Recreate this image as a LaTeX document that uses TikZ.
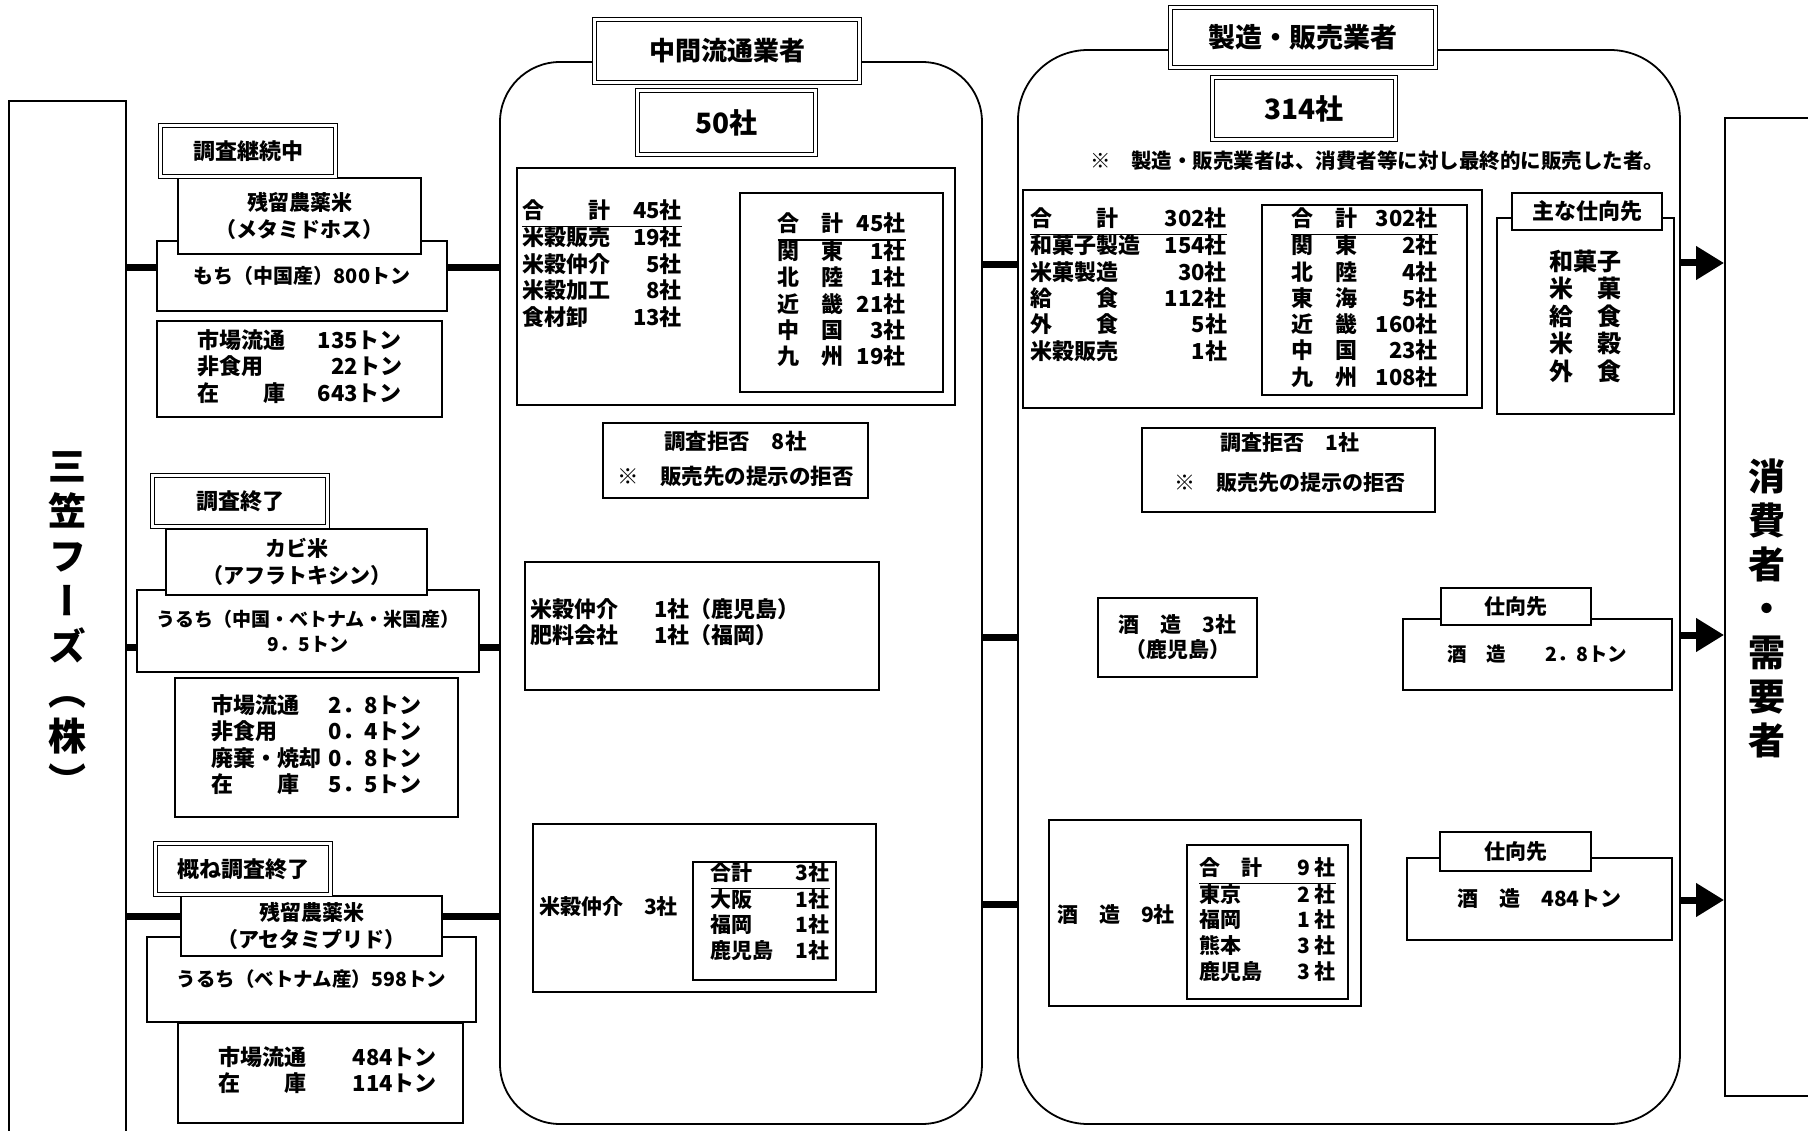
\documentclass[tikz,border=0pt]{standalone}
\usepackage{fontspec}
\setmainfont{Noto Sans CJK JP}
\newfontfamily\jpvert[RawFeature={+vert}]{Noto Sans CJK JP}
\usepackage{array}
\usetikzlibrary{arrows.meta}
\newcommand\fsz[2]{\fontsize{#1pt}{#2pt}\selectfont\bfseries}
\newcolumntype{L}[1]{>{\raggedright\arraybackslash}p{#1}}
\newcolumntype{R}[1]{>{\raggedleft\arraybackslash}p{#1}}
\setlength\arrayrulewidth{1.5pt}
\tikzset{
 bx/.style={draw, line width=1.8pt, fill=white, inner sep=0pt, align=center},
 dbx/.style={draw, line width=1.2pt, double=white, double distance=3pt, fill=white, inner sep=0pt, align=center},
 pos4/.style args={#1/#2/#3/#4}{minimum width={(#3)-(#1)}, minimum height={(#4)-(#2)}, at={({((#1)+(#3))/2},{((#2)+(#4))/2})}},
 conn/.style={line width=7pt},
 arr/.style={line width=7pt, -{Triangle[length=28pt,width=32pt]}},
 txt/.style={inner sep=0pt, align=center},
}
\begin{document}
\begin{tikzpicture}[x=1pt,y=-1pt]
\useasboundingbox (0,0) rectangle (1808,1131);
\clip (0,0) rectangle (1808,1131);
\fill[white] (0,0) rectangle (1808,1131);

% ---------- left: Mikasa Foods ----------
\node[bx, fill=none, pos4=9/101/126/1160] (mk) {};
\node[txt, font=\jpvert\fsz{38}{45}] (mkt) at (67,624) {三\\笠\\フ\\ー\\ズ\\（\\株\\）};

% group 1
\node[bx, font=\fsz{20}{24}, pos4=157/241/447/311] (r1) {もち（中国産）800トン};
\node[bx, font=\fsz{21}{27}, pos4=178/178/421/254] (m1) {残留農薬米\\（メタミドホス）};
\node[dbx, font=\fsz{22}{26}, pos4=160.5/125.5/335.5/176.5] (c1) {調査継続中};
\node[bx, font=\fsz{22}{25}, pos4=157/321/442/417] (s1) {\begin{tabular}{@{}L{120pt}@{}R{85pt}@{}}市場流通&135トン\\非食用&22トン\\在　　庫&643トン\end{tabular}};

% group 2
\node[bx, font=\fsz{19}{25}, pos4=137/590/479/672] (r2) {うるち（中国・ベトナム・米国産）\\9．5トン};
\node[bx, font=\fsz{21}{27}, pos4=166/529/427/595] (m2) {カビ米\\（アフラトキシン）};
\node[dbx, font=\fsz{22}{26}, pos4=152.5/475.5/327.5/526.5] (c2) {調査終了};
\node[bx, font=\fsz{22}{25.5}, pos4=175/678/458/817] (s2) {\begin{tabular}{@{}L{115pt}@{}R{95pt}@{}}市場流通&2．8トン\\非食用&0．4トン\\廃棄・焼却&0．8トン\\在　　庫&5．5トン\end{tabular}};

% group 3
\node[bx, font=\fsz{19.5}{24}, pos4=147/937/476/1022] (r3) {\raisebox{-4pt}{うるち（ベトナム産）598トン}};
\node[bx, font=\fsz{21}{27}, pos4=181/896/442/956] (m3) {残留農薬米\\（アセタミプリド）};
\node[dbx, font=\fsz{22}{26}, pos4=155.5/843.5/330.5/894.5] (c3) {概ね調査終了};
\node[bx, font=\fsz{22}{25}, pos4=178/1023/463/1123] (s3) {\hspace*{14pt}\begin{tabular}{@{}L{120pt}@{}R{99pt}@{}}市場流通&484トン\\在　　庫&114トン\end{tabular}};

% ---------- middle: intermediaries ----------
\node[bx, fill=none, rounded corners=60pt, pos4=500/62/982/1124] (mid) {};
\node[dbx, font=\fsz{26}{30}, pos4=594.5/19.5/859.5/82.5] (tmid) {中間流通業者};
\node[dbx, font=\fsz{28}{32}, pos4=637.5/90.5/815.5/154.5] (nmid) {50社};
\node[bx, pos4=517/168/955/405] (bA) {};
\node[txt, font=\fsz{22}{25}] (tA) at (602,266) {\begin{tabular}{@{}L{95pt}@{}R{65pt}@{}}合　　計&45社\\\hline 米穀販売&19社\\米穀仲介&5社\\米穀加工&8社\\食材卸&13社\end{tabular}};
\node[bx, font=\fsz{22}{25}, pos4=740/193/943/392] (bA2) {\begin{tabular}{@{}L{70pt}@{}R{58pt}@{}}合　計&45社\\\hline 関　東&1社\\北　陸&1社\\近　畿&21社\\中　国&3社\\九　州&19社\end{tabular}};
\node[bx, pos4=603/423/868/498] (bR) {};
\node[txt, font=\fsz{21.5}{35}] (tR) at (735.5,459) {調査拒否　8社\\※　販売先の提示の拒否};
\node[bx, pos4=525/562/879/690] (bB) {};
\node[txt, anchor=west, font=\fsz{22}{25}] (tB) at (530,625) {\begin{tabular}{@{}l@{\hspace{36pt}}l@{}}米穀仲介&1社（鹿児島）\\肥料会社&1社（福岡）\end{tabular}};
\node[bx, pos4=533/824/876/992] (bC) {};
\node[txt, anchor=west, font=\fsz{21}{25}] (tC) at (539,906) {米穀仲介　3社};
\node[bx, pos4=693/862/836/980] (bC2) {};
\node[txt, font=\fsz{21}{25}] (tC2) at (770,914) {\begin{tabular}{@{}L{70pt}@{}R{49pt}@{}}合計&3社\\\hline 大阪&1社\\福岡&1社\\鹿児島&1社\end{tabular}};

% ---------- right: manufacturers / sellers ----------
\node[bx, fill=none, rounded corners=70pt, pos4=1018/50/1680/1124] (rc) {};
\node[dbx, font=\fsz{27}{31}, pos4=1170.5/7.5/1435.5/67.5] (trc) {製造・販売業者};
\node[dbx, font=\fsz{28}{32}, pos4=1212.5/77.5/1395.5/139.5] (nrc) {314社};
\node[txt, anchor=west, font=\fsz{20.5}{24}] (note) at (1090,161) {※　製造・販売業者は、消費者等に対し最終的に販売した者。};
\node[bx, pos4=1023/190/1482/408] (bD) {};
\node[txt, font=\fsz{22}{25}] (tD) at (1128.5,287) {\begin{tabular}{@{}L{120pt}@{}R{77pt}@{}}合　　計&302社\\\hline 和菓子製造&154社\\米菓製造&30社\\給　　食&112社\\外　　食&5社\\米穀販売&1社\end{tabular}};
\node[bx, font=\fsz{22}{24.7}, pos4=1262/205/1467/395] (bD2) {\begin{tabular}{@{}L{75pt}@{}R{72pt}@{}}合　計&302社\\\hline 関　東&2社\\北　陸&4社\\東　海&5社\\近　畿&160社\\中　国&23社\\九　州&108社\end{tabular}};
\node[bx, pos4=1142/428/1435/512] (bR2) {};
\node[txt, font=\fsz{21}{40}] (tR2) at (1290,463) {調査拒否　1社\\※　販売先の提示の拒否};
\node[bx, font=\fsz{21}{25}, pos4=1098/598/1257/677] (b3) {酒　造　3社\\（鹿児島）};
\node[bx, pos4=1049/820/1361/1006] (b9) {};
\node[txt, anchor=west, font=\fsz{21}{25}] (t9) at (1057,915) {酒　造　9社};
\node[bx, font=\fsz{21}{25.5}, pos4=1187/845/1348/999] (b9i) {\begin{tabular}{@{}L{80pt}@{}R{57pt}@{}}合　計&9 社\\\hline 東京&2 社\\福岡&1 社\\熊本&3 社\\鹿児島&3 社\end{tabular}};

\node[bx, pos4=1497/218/1674/414] (bS) {};
\node[bx, font=\fsz{22}{26}, pos4=1512/193/1662/230] (bSl) {主な仕向先};
\node[txt, font=\fsz{24}{27.5}] (tS) at (1585,316) {和菓子\\米　菓\\給　食\\米　穀\\外　食};
\node[bx, font=\fsz{19.5}{24}, pos4=1403/619/1672/690] (bW2) {酒　造　　2．8トン};
\node[bx, font=\fsz{21}{25}, pos4=1441/588/1591/625] (bW2l) {仕向先};
\node[bx, font=\fsz{21}{25}, pos4=1407/858/1672/940] (bW3) {酒　造　484トン};
\node[bx, font=\fsz{21}{25}, pos4=1440/832/1591/871] (bW3l) {仕向先};

% ---------- consumers ----------
\node[bx, fill=none, pos4=1725/118/1840/1096] (cons) {};
\node[txt, font=\jpvert\fsz{37}{44}] (const) at (1767,608) {消\\費\\者\\・\\需\\要\\者};

% ---------- connectors ----------
\coordinate (ya) at (0,268);
\coordinate (yb) at (0,647);
\coordinate (yc) at (0,916);
\coordinate (za) at (0,265);
\coordinate (zb) at (0,637);
\coordinate (zc) at (0,904);
\coordinate (wa) at (0,263);
\coordinate (wb) at (0,635);
\coordinate (wc) at (0,900);

\draw[conn] (mk.east |- ya) -- (r1.west |- ya);
\draw[conn] (r1.east |- ya) -- (mid.west |- ya);
\draw[conn] (mk.east |- yb) -- (r2.west |- yb);
\draw[conn] (r2.east |- yb) -- (mid.west |- yb);
\draw[conn] (mk.east |- yc) -- (m3.west |- yc);
\draw[conn] (m3.east |- yc) -- (mid.west |- yc);

\draw[conn] (mid.east |- za) -- (rc.west |- za);
\draw[conn] (mid.east |- zb) -- (rc.west |- zb);
\draw[conn] (mid.east |- zc) -- (rc.west |- zc);

\draw[arr] (rc.east |- wa) -- (cons.west |- wa);
\draw[arr] (rc.east |- wb) -- (cons.west |- wb);
\draw[arr] (rc.east |- wc) -- (cons.west |- wc);
\end{tikzpicture}
\end{document}
